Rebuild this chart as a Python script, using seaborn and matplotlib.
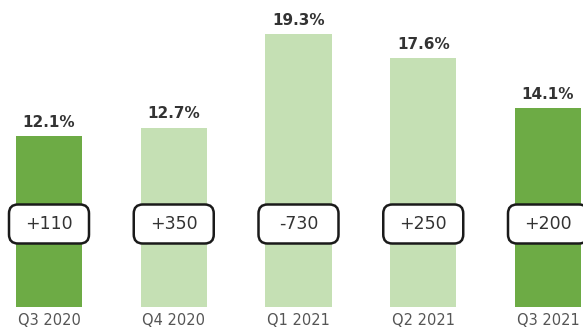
import matplotlib
matplotlib.use("Agg")
import matplotlib.pyplot as plt
import seaborn as sns
import pandas as pd
from matplotlib.patches import FancyBboxPatch

quarters = ["Q3 2020", "Q4 2020", "Q1 2021", "Q2 2021", "Q3 2021"]
margins = [12.1, 12.7, 19.3, 17.6, 14.1]
changes = ["+110", "+350", "-730", "+250", "+200"]
bar_colors = ["#6DAB45", "#C5E0B4", "#C5E0B4", "#C5E0B4", "#6DAB45"]

df = pd.DataFrame({"quarter": quarters, "margin": margins})

sns.set_style("white")
plt.rcParams["font.family"] = ["DejaVu Sans"]

W, H = 583, 334
fig = plt.figure(figsize=(W / 100, H / 100), dpi=100)
base_px = 307  # baseline pixel from top
ax = fig.add_axes([0, (H - base_px) / H, 1, base_px / H])

sns.barplot(data=df, x="quarter", y="margin", hue="quarter",
            palette=dict(zip(quarters, bar_colors)), width=0.53,
            legend=False, ax=ax, saturation=1, linewidth=0)

px_per_unit_x = 124.75
px_per_unit_y = 14.12
ax.set_xlim(-49 / px_per_unit_x, (W - 49) / px_per_unit_x)
ax.set_ylim(0, base_px / px_per_unit_y)

for s in ax.spines.values():
    s.set_visible(False)
ax.set_xlabel("")
ax.set_ylabel("")
ax.set_yticks([])
ax.tick_params(axis="x", length=0, pad=4, labelsize=10.5, labelcolor="#555555")

# value labels
for i, v in enumerate(margins):
    ax.annotate(f"{v}%", (i, v), xytext=(0, 4.5), textcoords="offset points",
                ha="center", va="bottom", fontsize=11, fontweight="bold",
                color="#333333")

# change boxes
box_w = 80 / px_per_unit_x
box_h = 39 / px_per_unit_y
box_cy = (base_px - 224) / px_per_unit_y
aspect = px_per_unit_x / px_per_unit_y
for i, c in enumerate(changes):
    p = FancyBboxPatch((i - box_w / 2, box_cy - box_h / 2), box_w, box_h,
                       boxstyle=f"round,pad=0,rounding_size={9 / px_per_unit_x}",
                       mutation_aspect=aspect, facecolor="white",
                       edgecolor="#1a1a1a", linewidth=1.8, zorder=3)
    ax.add_patch(p)
    ax.text(i, box_cy, c, ha="center", va="center", fontsize=12.5,
            color="#333333", zorder=4)

fig.savefig("out.png", dpi=100)
